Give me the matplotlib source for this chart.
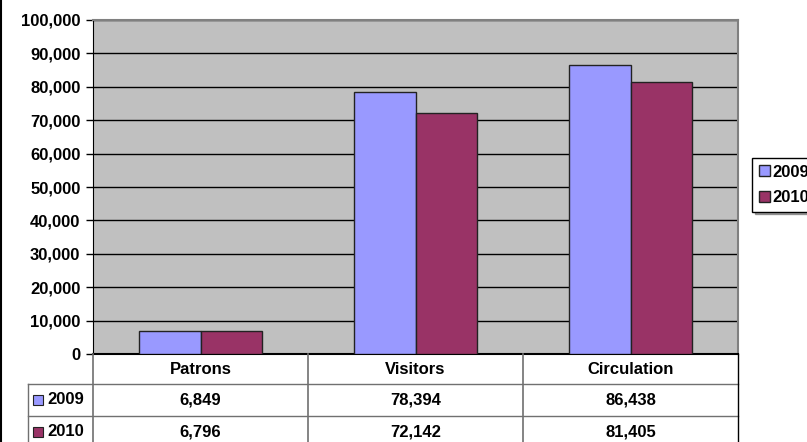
import matplotlib
matplotlib.use("Agg")
from matplotlib import pyplot as plt
from matplotlib.lines import Line2D
from matplotlib.patches import Rectangle

categories = ["Patrons", "Visitors", "Circulation"]
years = ["2009", "2010"]
values_2009 = [6849, 78394, 86438]
values_2010 = [6796, 72142, 81405]
colors = ["#9999FF", "#993366"]

plt.rcParams['font.family'] = ['Liberation Sans', 'DejaVu Sans']
plt.rcParams['font.weight'] = 'bold'
FS = 12

W, H = 807, 442
fig = plt.figure(figsize=(W / 100, H / 100), dpi=100)

# plot area in pixels
px_l, px_r, px_t, px_b = 93, 738, 20, 354
ax = fig.add_axes([px_l / W, 1 - px_b / H, (px_r - px_l) / W, (px_b - px_t) / H])
ax.set_facecolor("#C0C0C0")

x = list(range(len(categories)))
bw = 0.288
series = [values_2009, values_2010]
for i, vals in enumerate(series):
    off = (i - 0.5) * bw
    ax.bar([xi + off for xi in x], vals, width=bw, color=colors[i],
           edgecolor="#222222", linewidth=1, zorder=3, label=years[i])

ax.set_xlim(-0.5, 2.5)
ax.set_ylim(0, 100000)
ax.set_yticks(range(0, 100001, 10000))
ax.set_yticklabels([f"{v:,}" for v in range(0, 100001, 10000)], fontsize=FS, fontweight='bold')
ax.set_xticks([])
ax.yaxis.grid(True, color="black", linewidth=1)
ax.set_axisbelow(True)
ax.tick_params(axis='y', length=5, width=1, color="black", pad=4)
for s in ["top", "right"]:
    ax.spines[s].set_color("#808080")
    ax.spines[s].set_linewidth(1.5)
ax.spines["left"].set_color("black")
ax.spines["bottom"].set_color("black")
ax.spines["bottom"].set_linewidth(1.5)

# data table under the plot, category units horizontally, pixels vertically
tax = fig.add_axes([px_l / W, 0, (px_r - px_l) / W, (H - px_b) / H])
tax.set_xlim(-0.5, 2.5)
tax.set_ylim(H, px_b)
tax.axis("off")
cat_w = (px_r - px_l) / 3
lab_left = -0.5 - (px_l - 28) / cat_w
rows = [px_b, 384, 416, 448]
lc = "#707070"
for y in rows[1:3]:
    tax.add_line(Line2D([lab_left, 2.5], [y, y], color=lc, lw=1, clip_on=False))
for b in [-0.5, 0.5, 1.5]:
    tax.add_line(Line2D([b, b], [px_b, H], color=lc, lw=1.2, clip_on=False))
tax.add_line(Line2D([2.5, 2.5], [px_b, H], color="black", lw=1, clip_on=False))
tax.add_line(Line2D([lab_left, lab_left], [rows[1], H], color=lc, lw=1, clip_on=False))

for i, c in enumerate(categories):
    tax.text(i, (rows[0] + rows[1]) / 2, c, ha="center", va="center",
             fontsize=FS, fontweight="bold")
for r, vals in enumerate(series):
    yc = (rows[r + 1] + rows[r + 2]) / 2
    for i, v in enumerate(vals):
        tax.text(i, yc, f"{v:,}", ha="center", va="center", fontsize=FS, fontweight="bold")
    tax.add_patch(Rectangle((lab_left + 5 / cat_w, yc + 5), 10 / cat_w, -10,
                            facecolor=colors[r], edgecolor="#222222", lw=0.8, clip_on=False))
    tax.text(lab_left + 19 / cat_w, yc, years[r], ha="left", va="center",
             fontsize=FS, fontweight="bold")

# legend at the right, partly cut off
leg = fig.legend(loc="upper left", bbox_to_anchor=(752 / W, 1 - 158 / H),
                 borderaxespad=0, prop={'size': FS, 'weight': 'bold'}, frameon=True,
                 fancybox=False, shadow=True, handlelength=0.65, handleheight=0.65,
                 handletextpad=0.15, borderpad=0.4, labelspacing=0.62)
leg.get_frame().set_edgecolor("black")
leg.get_frame().set_linewidth(1)

# chart border on the left edge
fig.add_artist(Line2D([1 / W, 1 / W], [0, 1], color="black", lw=1.5))

plt.savefig("out.png", dpi=100)
